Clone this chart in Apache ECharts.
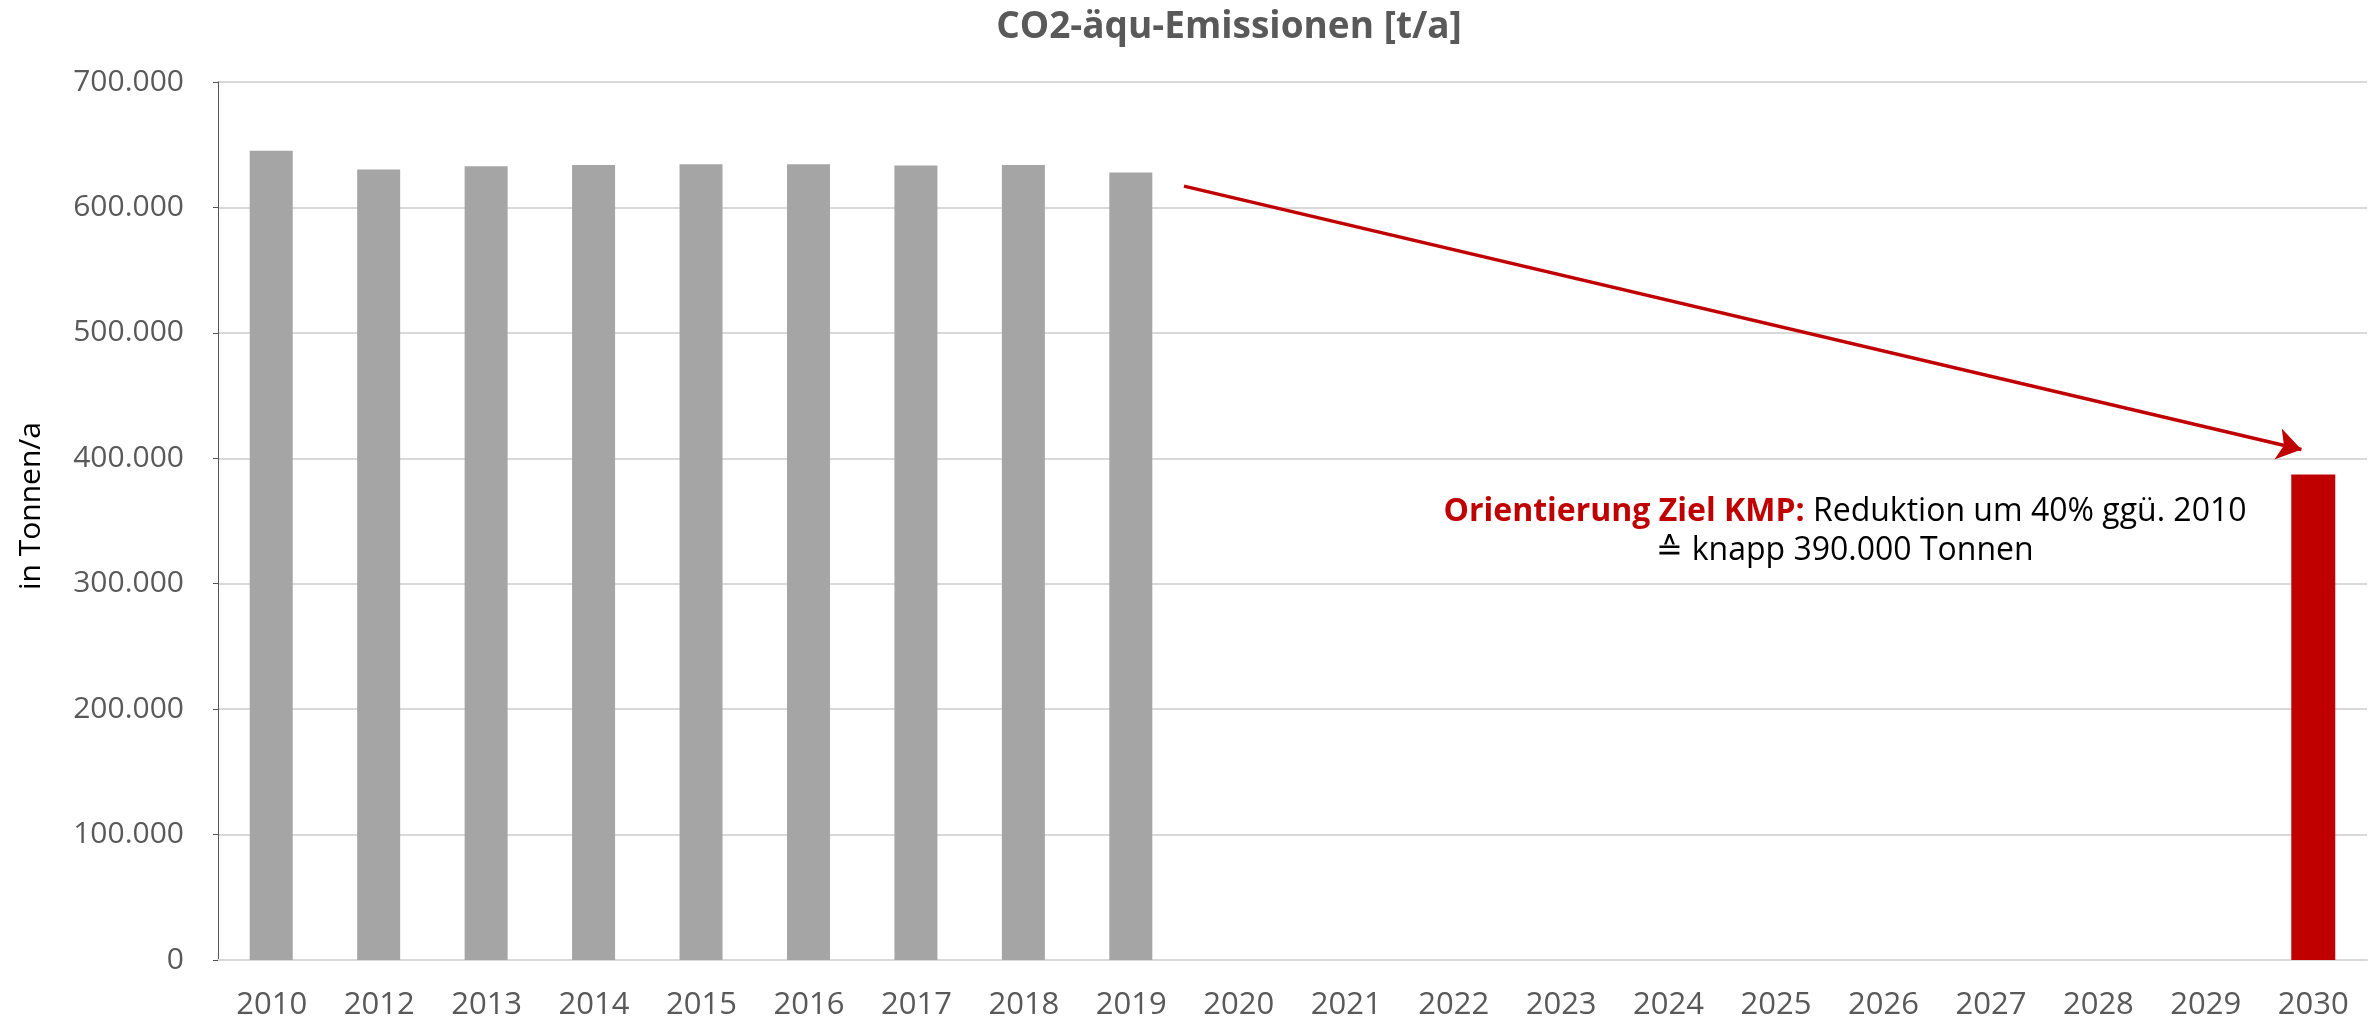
<!DOCTYPE html>
<html>
<head>
<meta charset="utf-8">
<script src="https://cdn.jsdelivr.net/npm/echarts@6/dist/echarts.min.js"></script>
<style>
  html, body { margin: 0; padding: 0; background: #fff; }
  #box { width: 2379px; height: 1027px; }
</style>
</head>
<body>
<div id="box"></div>
<script>
const years = ['2010', '2012', '2013', '2014', '2015', '2016', '2017', '2018', '2019',
  '2020', '2021', '2022', '2023', '2024', '2025', '2026', '2027', '2028', '2029', '2030'];
// Ist-Werte bis 2019, danach leer
const emissions = [645100, 630200, 632900, 633900, 634500, 634500, 633400, 633900, 627900,
  null, null, null, null, null, null, null, null, null, null, null];
// Zielwert 2030
const target = [null, null, null, null, null, null, null, null, null,
  null, null, null, null, null, null, null, null, null, null, 387000];
// Pfeil von 2019 zum Ziel (x in Kategorie-Einheiten, y in t/a)
const arrowFrom = [8.99, 617000];
const arrowTo = [19.39, 407000];

const grey = '#595959';
const red = '#C00000';
const fmt = v => String(v).replace(/\B(?=(\d{3})+(?!\d))/g, '.');

const chart = echarts.init(document.getElementById('box'));

chart.setOption({
  animation: false,
  textStyle: { fontFamily: 'Open Sans' },
  title: {
    text: 'CO2-äqu-Emissionen [t/a]',
    left: 1224,
    top: 4,
    textAlign: 'center',
    textStyle: { fontSize: 37, fontWeight: 'bold', color: grey }
  },
  grid: {
    left: 218,
    right: 12,
    top: 82,
    bottom: 67
  },
  xAxis: [{
    type: 'category',
    data: years,
    axisLine: { lineStyle: { color: '#d9d9d9', width: 2 } },
    axisTick: { length: 12, lineStyle: { color: '#d9d9d9', width: 2 } },
    axisLabel: { color: grey, fontSize: 31, margin: 30 }
  }, {
    type: 'value',
    min: 0,
    max: 20,
    show: false
  }],
  yAxis: {
    type: 'value',
    min: 0,
    max: 700000,
    interval: 100000,
    name: 'in Tonnen/a',
    nameLocation: 'middle',
    nameGap: 172,
    nameTextStyle: { fontSize: 30, color: '#000', padding: [0, 0, 0, 30] },
    axisLabel: { color: grey, fontSize: 30, margin: 34, formatter: fmt },
    splitLine: { lineStyle: { color: '#d9d9d9', width: 2 } }
  },
  series: [{
    type: 'bar',
    data: emissions,
    barWidth: 43,
    barGap: '-100%',
    itemStyle: { color: '#A5A5A5' }
  }, {
    type: 'bar',
    data: target,
    barWidth: 44,
    barGap: '-100%',
    itemStyle: { color: red }
  }, {
    type: 'lines',
    coordinateSystem: 'cartesian2d',
    xAxisIndex: 1,
    yAxisIndex: 0,
    symbol: ['none', 'arrow'],
    symbolSize: [18, 24],
    lineStyle: { color: red, width: 3.5, opacity: 1 },
    data: [{ coords: [arrowFrom, arrowTo] }]
  }],
  graphic: [{
    type: 'text',
    x: 1845,
    y: 492,
    style: {
      text: '{b|Orientierung Ziel KMP:} Reduktion um 40% ggü. 2010\n≙ knapp 390.000 Tonnen',
      align: 'center',
      verticalAlign: 'top',
      fontFamily: 'Open Sans',
      fontSize: 32,
      lineHeight: 39,
      fill: '#000',
      rich: {
        b: { fontWeight: 'bold', fill: red, fontSize: 32, lineHeight: 39, fontFamily: 'Open Sans' }
      }
    }
  }]
});
</script>
</body>
</html>
